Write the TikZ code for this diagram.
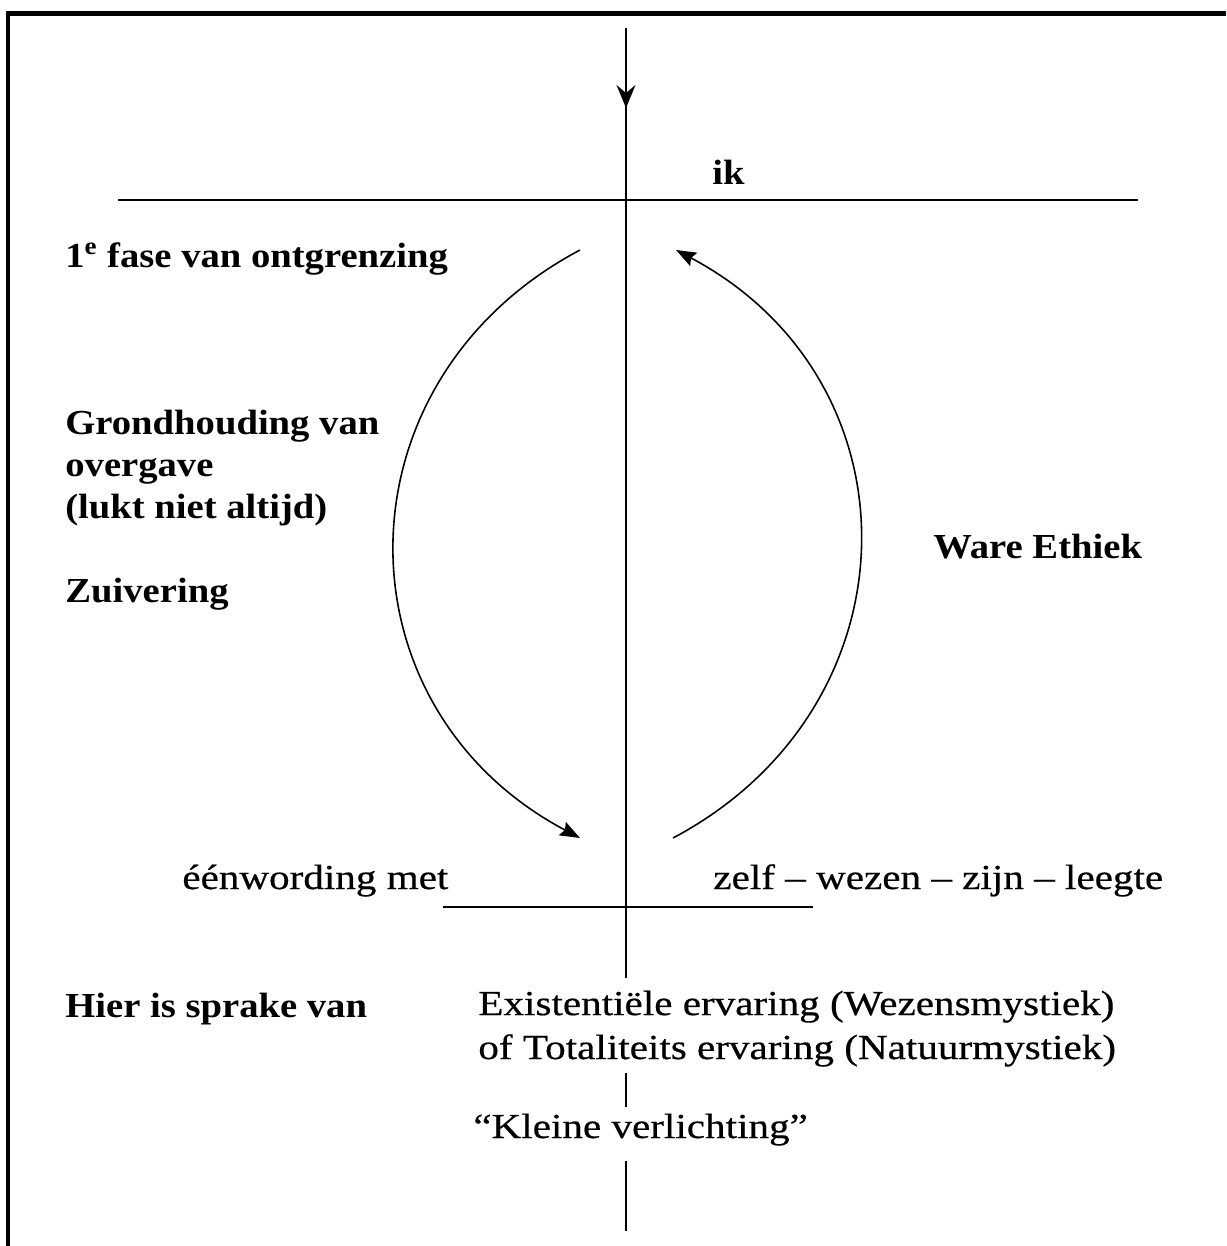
\documentclass[tikz,border=0pt]{standalone}
\usepackage{fontspec}
\setmainfont{Liberation Serif}
\newfontfamily\vetfont[FakeStretch=1.1,Ligatures=TeX]{Liberation Serif}
\newfontfamily\gewoonfont[FakeStretch=1.17,FakeBold=0.5,Ligatures=TeX]{Liberation Serif}
\usepackage{tikz}
\usetikzlibrary{arrows.meta,positioning}
\definecolor{inkt}{HTML}{000000}
\tikzset{
  >={Stealth[length=4.6mm,width=3.8mm,inset=1.6mm]},
  % lijnen
  lijn/.style={draw=inkt,line width=1.1pt},
  kader/.style={draw=inkt,line width=2.3pt,line join=miter},
  boog/.style={draw=inkt,line width=0.9pt,
               -{Stealth[length=4mm,width=3mm,inset=0.6mm]}},
  % tekst
  vet/.style={font=\vetfont\bfseries\fontsize{20}{23.9}\selectfont,
              anchor=base west,inner sep=0pt,align=left,text=inkt},
  gewoon/.style={font=\gewoonfont\fontsize{20}{25}\selectfont,
                 anchor=base west,inner sep=0pt,align=left,text=inkt},
}
\begin{document}
\begin{tikzpicture}[x=0.02cm,y=-0.02cm]
\useasboundingbox (0,0) rectangle (1226,1246);
  \draw[kader] (8,1246) -- (8,13.5) -- (1226,13.5);
  % as en lijnen
  \coordinate (top) at (626,28);
  \coordinate (pijl) at (626,108);
  \coordinate (voet) at (626,978);
  \coordinate (ik-l) at (118,200);
  \coordinate (ik-r) at (1138,200);
  \coordinate (een-l) at (443,907);
  \coordinate (een-r) at (813,907);
  \coordinate (s1a) at (626,1073);
  \coordinate (s1b) at (626,1107);
  \coordinate (s2a) at (626,1161);
  \coordinate (s2b) at (626,1231);
  \draw[lijn,->] (top) -- (pijl);
  \draw[lijn] (top) -- (voet);
  \draw[lijn] (ik-l) -- (ik-r);
  \draw[lijn] (een-l) -- (een-r);
  \draw[lijn] (s1a) -- (s1b);
  \draw[lijn] (s2a) -- (s2b);
  % bogen
  \coordinate (lb) at (580,250);
  \coordinate (lo) at (580,838);
  \coordinate (ro) at (673,838);
  \coordinate (rb) at (676,250);
  \draw[boog] (lb) .. controls (333,381) and (333,707) .. (lo);
  \draw[boog] (ro) .. controls (920,707) and (923,381) .. (rb);
  % tekst
  \node[vet] (ik) at (712,185) {ik};
  \node[vet] (fase) at (65,268) {1\textsuperscript{e} fase van ontgrenzing};
  \node[vet] (grond) at (65,518) {Grondhouding van\\overgave\\(lukt niet altijd)};
  \node[vet] (zuiv) at (65,602) {Zuivering};
  \node[vet] (ethiek) at (933,558) {Ware Ethiek};
  \node[gewoon] (eenw) at (182,889) {éénwording met};
  \node[gewoon] (zelf) at (713,889) {zelf – wezen – zijn – leegte};
  \node[vet] (hier) at (65,1017) {Hier is sprake van};
  \node[gewoon] (erv) at (478,1059) {Existentiële ervaring (Wezensmystiek)\\of Totaliteits ervaring (Natuurmystiek)};
  \node[gewoon] (klein) at (473,1138) {“Kleine verlichting”};
\end{tikzpicture}
\end{document}
